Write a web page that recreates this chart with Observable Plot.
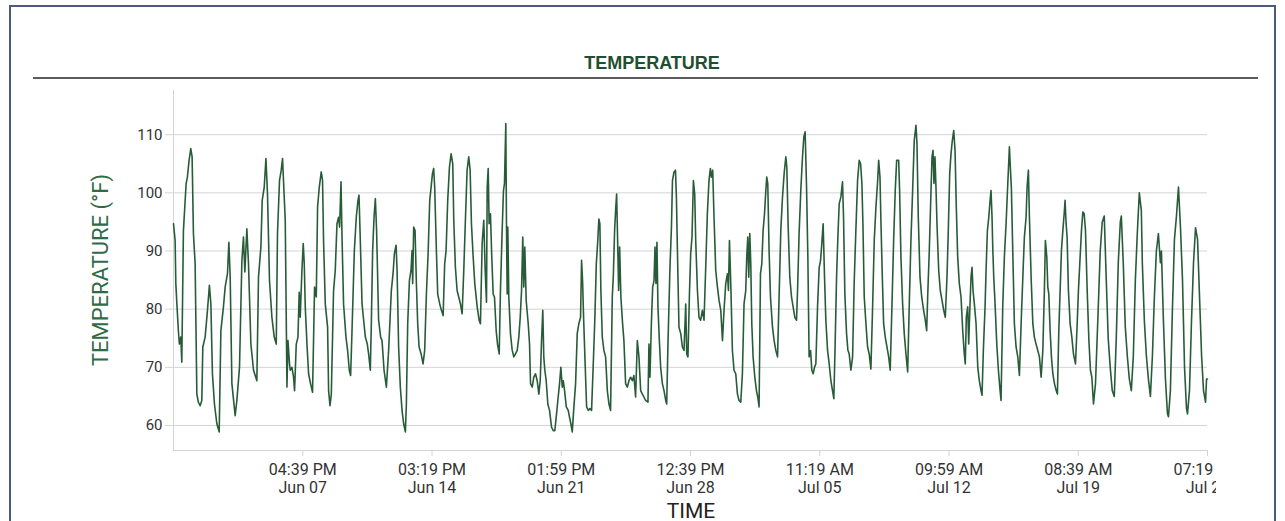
<!DOCTYPE html>
<html>
<head>
<meta charset="utf-8">
<script src="https://cdn.jsdelivr.net/npm/d3@7"></script>
<script src="https://cdn.jsdelivr.net/npm/@observablehq/plot@0.6"></script>
<style>
  html, body { margin: 0; padding: 0; background: #fff; width: 1285px; height: 521px; overflow: hidden; }
  #frame { position: absolute; left: 9px; top: 5px; width: 1267px; height: 600px; border: 2px solid #4b5b78; border-bottom: none; box-sizing: border-box; }
  #chart { position: absolute; left: 0; top: 0; width: 1216px; height: 521px; overflow: hidden; }
  #chart svg { max-width: none !important; }
  #title { position: absolute; left: 452px; width: 400px; top: 54px; text-align: center; font: bold 18px/18px "Liberation Sans", Arial, sans-serif; color: #1f4f2f; }
  #rule { position: absolute; left: 33px; top: 77px; width: 1225px; height: 0; border-top: 2px solid #5c5c5c; }
  #ylabel { position: absolute; left: 101px; top: 270px; transform: translate(-50%, -50%) rotate(-90deg); white-space: nowrap; font: 22px/22px Roboto, sans-serif; color: #2f6b45; }
  #xlabel { position: absolute; left: 591px; width: 200px; top: 501px; text-align: center; font: 21px/21px Roboto, sans-serif; color: #222; }
</style>
</head>
<body>
<div id="frame"></div>
<div id="chart"></div>
<div id="title">TEMPERATURE</div>
<div id="rule"></div>
<div id="ylabel">TEMPERATURE (°F)</div>
<div id="xlabel">TIME</div>
<script>
// Series start (first reading) and hours since start for each reading
const startTime = new Date(2023, 4, 31, 17, 59);
const tickStepMinutes = 10000;   // 166 h 40 min between x ticks
const tickCount = 8;
const yTicks = [60, 70, 80, 90, 100, 110];
const yDomain = [55.7, 117.6];

const hours = [
0,2.1,3.0,4.3,6.3,7.6,9.4,10.7,12.8,16.3,17.9,20.1,22.3,24,25.7,27.9,30.1,32.1,34.3,36.5,37.8,40.8,43.8,46.3,48.2,50.2,52.8,55.9,58.9,61.1,64.4,66.6,69.6,71.4,73.1,75.3,79.5,81.7,85.1,88.2,90.2,92,94.6,96.7,99.8,103.2,107.5,109.6,112.7,114.4,117,119.2,121.2,123.8,126.9,129.9,132.5,134.1,136.7,138.9,140.6,144.1,146.3,147.6,149.6,
150.5,152.7,154.8,156.1,158.3,160.5,162.1,163.4,165.6,167.3,168.6,169.9,172.1,174.2,176.7,179.3,181.9,184.1,185.8,188,190.5,192.2,193.5,195.7,198.7,200,201.8,203.5,206.4,208.6,210.8,212.9,214.2,216,217.3,219.3,222.4,224.5,226.7,228.4,230.2,233.2,235.7,237.9,239.2,240.9,243.1,245.2,247.4,249.9,251.6,253.8,255.1,256.8,258.6,260.3,261.9,264.5,267.1,268.9,271.5,274.5,277.4,280.9,283.1,284.8,287,288.3,290.3,292.5,294.7,296.8,
299,300.3,302,304.2,306.3,307.6,308.4,309.7,311.5,313.2,314.9,316.7,319.3,321.8,323.9,326.1,328.3,330.4,332.2,333.9,335.5,336.8,339,340.7,343.3,345.5,347.7,349.7,351.5,353.6,355.8,358,360.1,361.4,363.5,365.7,367.8,370,372.2,374.3,376.4,378.6,380.7,382.5,384.2,386.4,388.5,391.6,394.1,395.8,398,400.1,401.9,403.6,404.5,405.8,407,408.7,410.4,412.2,413.9,416.1,417.8,420,421.6,423.8,425.5,426.8,428.5,429.4,430.3,431.1,432.4,434.5,436.7,438.8,441,
443.2,445.3,447.1,448.8,450.4,451.7,453,454.8,457.4,459.1,460.4,462.6,464.6,466.8,469,471.1,472.9,474.6,476.2,477.5,478.8,480.6,482.7,484.9,487.5,489.7,491.7,493.5,495.6,497.8,499.5,501.3,502.6,504.3,506.5,509,510.7,512.4,514.2,516.3,518.5,520.6,522.7,524.9,526.2,527.5,528.8,530.5,532.7,534.9,536.9,539.1,541.3,543.4,545.2,546.9,548.5,549.8,551.1,552.9,555,557.2,559.4,561.5,563.6,565.8,567.1,568.8,570.1,571.4,572.7,574,575.3,576.9,578.8,580.8,583,585.2,587.3,589.5,
591.7,593.7,595.9,598.1,600.2,602.4,604.6,606.6,608.8,611.8,613.1,614.4,616.2,617.9,619.6,620.9,622.1,623.4,624.7,626.5,628.2,630.4,632.5,634.7,636,637.6,640.2,642.1,643.4,645.4,647.3,648.5,649.8,651.8,654.1,656.2,658.3,660.5,661.8,663.4,665.3,666.9,668.6,670.4,672.1,673.4,675.6,677.6,679.8,682,684.1,686.3,688.4,690.5,692.3,693.6,695.3,697,699.2,701.4,703.5,705.7,707.9,709.9,712.1,714.3,715.6,716.9,718.6,720.7,722.8,725,727.2,729.3,731.5,733.6,735.7,737.9,
739.2,740.5,741.8,743.1,744.4,745.7,747.4,749.6,751.7,753.4,755.1,756.9,758.6,760.3,762.1,763.8,765,766.3,768,769.8,772.4,774.5,776.7,778.9,780.9,783.1,785.3,787.4,789.6,790.9,792.5,794.7,796.9,799,801.2,803.4,804.7,806.7,808.9,811.1,812.8,814.5,816.3,818,819.6,821.5,823.1,824.8,826.6,828.3,830.5,832.6,834.4,836,837.7,839.5,841.2,843.4,845.5,847.7,849.8,851.5,853.2,855,856.7,858.4,860.6,862.7,864,865.7,867.9,869.6,871.3,873.5,875.7,877.7,879.9,882.1,884.2,886,
887.7,889,890.7,892.9,895,897.1,899.3,901.5,903.6,905.8,908,909.3,911,912.3,913.9,915.7,917.8,920,922.2,924.2,926.4,928.6,930.7,932.5,935.1,936.3,938,940.2,942.3,944.5,946.7,948.7,950.9,953.1,955.2,957.4,958.7,960.4,962.6,964.8,967.3,969.4,971.2,972.5,974.6,976.8,978.1,979.4,980.6,981.9,983.2,984.5,986.7,988.8,991,993.2,995.2,997.4,999.1,1000.9,1002.6,1004.3,1006.1,1007.8,1009.4,1011.2,1013.3,1015.5,1017.7,1019.7,1021,1022.3,1024.1,1025.4,1026.7,1028.4,1029.7,1031,1032.7,1034.9,
1037.1,1039.1,1041.3,1042.6,1044.3,1046.5,1047.8,1049.5,1051.3,1053,1054.2,1055.5,1056.4,1057.7,1059.4,1061.6,1063.7,1065.9,1067.1,1069.3,1071.4,1073.6,1075.8,1077.9,1079.1,1080.4,1082.2,1084.3,1086.5,1088.7,1090.8,1093,1095.2,1097.2,1099.4,1100.7,1102.4,1103.7,1105.9,1108.1,1110.1,1112.3,1114.5,1116.6,1118.8,1121,1123,1124.3,1126.1,1127.4,1128.7,1130.4,1132.1,1133.9,1136,1138.2,1139.8,1141.6,1143.3,1145,1146.8,1148.5,1149.7,1151,1152.3,1154,1156.2,1158.4,1160.5,1163.1,1165.3,1166.9,1169.1,1170.8,1172.6,1174.3,1176,1178.2,1180.4,1182.4,1184.2,1186.3,1188.9,
1192.4,1195,1197.6,1200.2,1202.8,1205.3,1207.9,1210.5,1213.1,1215.7,1218.3,1220.9,1222.2,1224.7,1227.3,1229.9,1232.5,1235.1,1237.7,1240.3,1242.8,1245.4,1248,1249.3,1251.9,1254.5,1257.1,1259.7,1262.3,1264.8,1267.4,1270,1272.6,1273.9,1276.5,1279.1,1281.7,1283,1285.5,1288.1,1290.7,1293.3,1295.9,1298.5,1301.1,1303.7,1306.2,1307.5,1310.1,1312.7,1315.3,1317.9,1320.5,1323.1,1325.7,1328.2,1330.8,1332.1,1333.3
];

const temps = [
94.7,91.8,84.4,81,76.3,74,75.2,70.9,93.5,101.6,102.7,105.6,107.6,106.2,93,87.8,65.4,64,63.4,64.3,73.5,75.2,79.8,84.1,80.9,68.9,63.7,60.3,58.9,76.3,80.4,83.8,86.1,91.5,85.5,67.2,61.7,64.3,70,88.4,92.4,86.4,93.8,87.8,74,69.5,67.7,85.5,90.7,98.7,101,105.9,99.8,84.9,78.6,75.2,74,93,102.1,103.9,105.9,95.3,66.6,74.6,70.6,
69.5,70,68.3,66,74,75.2,82.9,78.6,86.7,91.3,87.8,80.4,74,68.9,67.2,65.7,83.8,82.1,97.6,101,103.6,102.1,91.8,80.9,76.9,66,63.4,65.4,83.2,86.7,94.7,95.8,94.1,101.9,92.4,80.9,75.2,72.9,69.5,68.6,76.3,90.1,95.8,98.7,99.6,91.8,80.9,78.1,75.2,74,72.3,69.5,77.5,90.1,95.8,99,93.5,78.1,75.2,74.6,69.5,66.6,72.9,83.2,86.1,89.5,91,86.7,73.5,66.6,62.6,60.3,
58.9,63.7,77.5,84.9,86.7,90.1,84.4,94.1,93.5,84.4,77.5,73.5,72.3,70.6,72.9,82.6,89.5,98.7,101,103.3,104.2,101,90.1,82.6,80.9,79.8,78.9,87.8,90.1,98.7,104.4,106.7,105,95.3,87.2,83.2,82.1,80.9,79.2,86.7,95.3,103.9,106.2,103.9,94.7,89,84.4,80.4,78.1,77.5,91.3,95.3,86.7,81.2,101,104.2,94.7,96.4,89,82.6,82.1,76.3,74,72.3,83.2,93.5,100.4,101.6,111.9,94.1,82.6,94.1,82.1,75.8,73,71.8,72.3,
72.9,75.2,78.6,83.2,92.4,83.8,90.7,81.5,77.5,74,67.2,66.6,68.3,68.9,67.7,65.4,67.7,74.6,79.8,71.8,69.5,67.7,63.7,62.6,59.7,59.1,59.1,61.4,64.3,67.2,70,66.6,67.7,66,63.2,62.6,61.4,60.3,58.9,63.2,67.2,75.8,77.5,78.6,88.4,84.9,78.6,71.8,63.2,62.6,62.9,62.6,70.6,78.6,87.8,91.3,95.5,94.7,83.2,75.2,72.9,71.8,66,63.7,62.6,82.1,85.5,93.5,97,99.8,91.8,83.2,90.7,82.1,78.1,74.6,67.2,66.6,67.7,68.3,
67.7,68.6,64.9,74.6,71.8,66,65.4,64.9,64.3,64,74,68.3,77.5,83.8,84.9,90.7,84.4,91.5,80.4,74.6,70,67.2,66,64.3,63.7,74,87.2,94.1,102.1,103.6,103.9,99.3,90.1,76.9,75.8,73.5,72.9,80.9,72.3,71.8,82.6,89.5,92.4,102.1,99.8,91.8,83.2,78.6,78.1,79.8,78.1,87.2,96.4,102.1,104.2,102.7,103.9,95.8,86.7,83.8,81.5,79.8,74.6,79.8,84.4,86.1,83.2,91.8,84.4,72.9,69.5,68.9,65.4,64.3,64,68.9,80.9,83.2,
89,92.4,85.5,93,87.8,77.5,71.8,68.3,66,64.9,63.2,86.1,87.8,93.5,96.4,100.4,102.7,101.6,90.1,82.1,76.9,74.6,72.9,71.8,82.1,93.5,99.3,103.3,106.2,104.4,94.7,85.5,82.1,80.4,78.6,78.1,83.2,93,100.4,106.2,109.6,110.5,101,89,71.8,72.9,69.5,68.9,70,70.6,80.4,87.2,88.4,91.3,94.7,85.5,78.1,72.9,70.6,67.7,66,64.6,74,85.5,92.4,98.1,99.3,101.9,95.8,82.6,75.8,73,72.3,69.5,71.8,84.4,93.5,102.1,105.6,105,
101.6,94.7,82.1,77.5,73.5,72.3,69.7,80.4,91.8,97.6,102.1,105.6,102.7,94.7,86.1,77.5,75.2,73.5,71.8,69.5,80.4,91.8,100.4,105.6,105.6,100.4,89,80.9,75.8,72.3,69.2,80.4,91.8,100.4,109,111.6,108.5,95.8,85.5,82.1,79.8,78.1,76.3,82.1,90.1,100.4,106.2,107.3,101.6,106.2,101,94.7,86.7,83.2,81.5,79.8,78.6,85.5,93.5,103.3,106.7,109,110.7,107.3,97.6,89,84.4,82.1,76.3,72.3,70.6,78.6,80.4,74,79.2,85.5,87.2,83.2,80.9,77.5,
70,67.7,66,65.2,72.9,80.4,86.7,93.5,95.8,98.7,100.4,95.8,90.7,85.5,80.9,74,69.5,66,64.3,80.4,89,94.7,101.6,107.9,104.4,101,90.1,77.5,73.5,71.8,68.6,77.5,85.5,92.4,95.8,101,103.9,95.8,85.5,77.5,75.2,74,72.9,71.8,68.3,72.9,83.2,91.8,89,83.8,82.6,76.3,71.8,68.9,67.2,66,65.4,76.3,83.2,90.1,93.5,96.4,98.7,94.7,92.4,83.2,77.5,75.2,72.3,70.6,77.5,83.2,89,93.5,96.7,96.4,93.5,83.2,74.6,69.5,68.3,63.7,67.2,
80,90,95,96,85,75,70,66,65,75,88,95,96,88,77,72,68,66,72,85,93,100,97,88,78,72,68,65,72,82,90,93,88,90,78,68,62,61.5,66,80,92,96,101,94,85,70,63,62,66,78,88,94,92,82,72,66,64,68,68
];

const HOUR = 3600 * 1000;
const data = hours.map((h, i) => ({ time: new Date(startTime.getTime() + h * HOUR), temp: temps[i] }));
const xTicks = d3.range(1, tickCount + 1).map(k => d3.timeMinute.offset(startTime, k * tickStepMinutes));
const endTime = xTicks[xTicks.length - 1];
const fmtTime = d3.timeFormat("%I:%M %p");
const fmtDay = d3.timeFormat("%b %d");

const chart = Plot.plot({
  width: 1285,
  height: 521,
  marginLeft: 173,
  marginRight: 78,
  marginTop: 90,
  marginBottom: 71,
  style: { fontFamily: "Roboto, sans-serif", background: "transparent", overflow: "visible", maxWidth: "none" },
  x: { type: "time", domain: [startTime, endTime] },
  y: { domain: yDomain },
  marks: [
    Plot.gridY(yTicks, { stroke: "#d4d4d4", strokeOpacity: 1 }),
    Plot.ruleX([startTime], { stroke: "#d4d4d4" }),
    Plot.ruleY([yDomain[0]], { stroke: "#d4d4d4" }),
    Plot.axisY({ ticks: yTicks, tickSize: 8, tickPadding: 3, stroke: "#d4d4d4", fill: "#333", fontSize: 15, label: null }),
    Plot.axisX({ ticks: xTicks, tickFormat: d => fmtTime(d) + "\n" + fmtDay(d), tickSize: 6, tickPadding: 5, stroke: "#d4d4d4", fill: "#333", fontSize: 16, lineHeight: 1.15, label: null }),
    Plot.line(data, { x: "time", y: "temp", stroke: "#285c39", strokeWidth: 1.6 })
  ]
});
document.getElementById("chart").appendChild(chart);
</script>
</body>
</html>
